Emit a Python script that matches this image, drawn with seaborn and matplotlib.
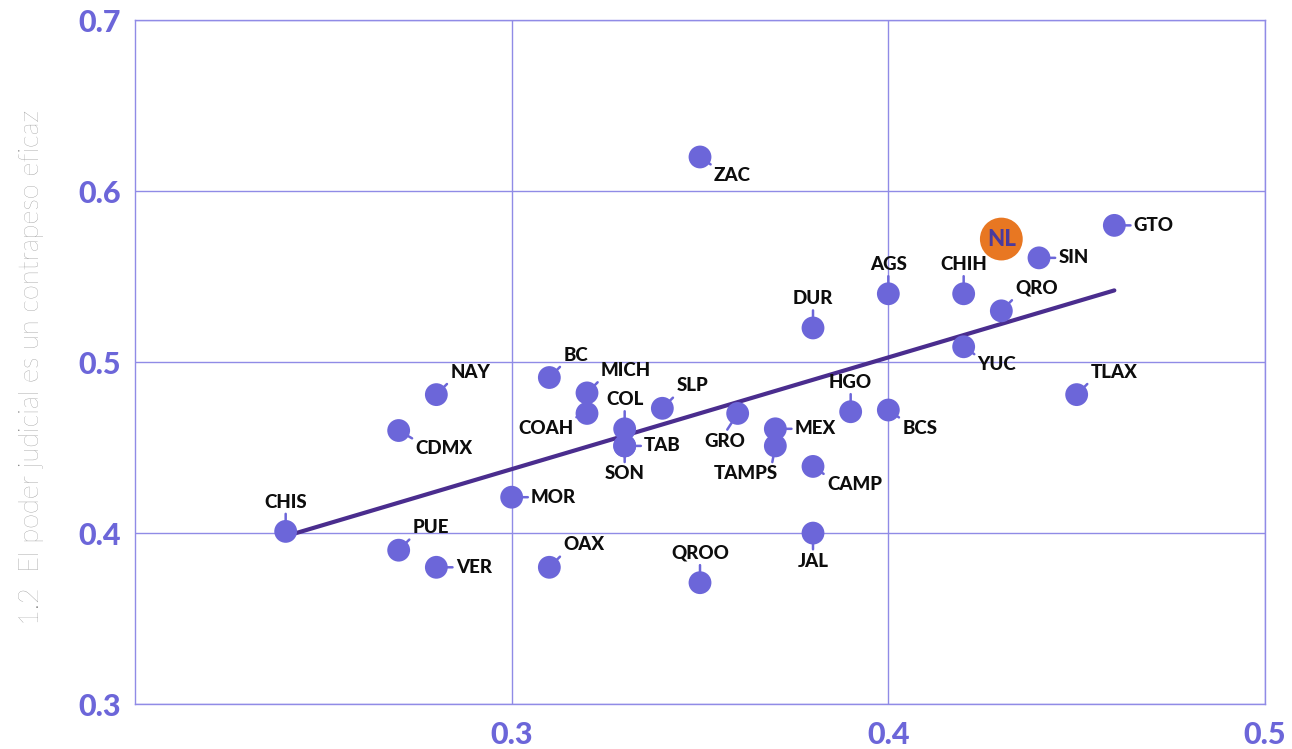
import pandas as pd
import matplotlib.pyplot as plt
import seaborn as sns

# datos
estados = ['CHIS', 'PUE', 'VER', 'NAY', 'CDMX', 'MOR', 'OAX', 'BC', 'MICH', 'COAH',
           'COL', 'TAB', 'SON', 'SLP', 'ZAC', 'QROO', 'GRO', 'MEX', 'TAMPS', 'DUR',
           'CAMP', 'JAL', 'HGO', 'AGS', 'BCS', 'CHIH', 'YUC', 'QRO', 'SIN', 'TLAX',
           'GTO', 'NL']
x_vals = [0.24, 0.27, 0.28, 0.28, 0.27, 0.30, 0.31, 0.31, 0.32, 0.32,
          0.33, 0.33, 0.33, 0.34, 0.35, 0.35, 0.36, 0.37, 0.37, 0.38,
          0.38, 0.38, 0.39, 0.40, 0.40, 0.42, 0.42, 0.43, 0.44, 0.45,
          0.46, 0.43]
y_vals = [0.401, 0.390, 0.380, 0.481, 0.460, 0.421, 0.380, 0.491, 0.482, 0.470,
          0.461, 0.451, 0.451, 0.473, 0.620, 0.371, 0.470, 0.461, 0.451, 0.520,
          0.439, 0.400, 0.471, 0.540, 0.472, 0.540, 0.509, 0.530, 0.561, 0.481,
          0.580, 0.572]
x_ticks = [0.3, 0.4, 0.5]
y_ticks = [0.3, 0.4, 0.5, 0.6, 0.7]
y_titulo = '1.2  El poder judicial es un contrapeso eficaz'
destacado = 'NL'

df = pd.DataFrame({'estado': estados, 'x': x_vals, 'y': y_vals})

# posicion de etiquetas (puntos): dx, dy, ha, va
pos = {
    'CHIS': (0, 15, 'center', 'bottom'), 'PUE': (10, 10, 'left', 'bottom'),
    'VER': (14, 0, 'left', 'center'), 'NAY': (10, 10, 'left', 'bottom'),
    'CDMX': (12, -7, 'left', 'top'), 'MOR': (14, 0, 'left', 'center'),
    'OAX': (10, 10, 'left', 'bottom'), 'BC': (10, 10, 'left', 'bottom'),
    'MICH': (10, 10, 'left', 'bottom'), 'COAH': (-10, -5, 'right', 'top'),
    'COL': (0, 15, 'center', 'bottom'), 'TAB': (14, 0, 'left', 'center'),
    'SON': (0, -14, 'center', 'top'), 'SLP': (10, 10, 'left', 'bottom'),
    'ZAC': (10, -7, 'left', 'top'), 'QROO': (0, 15, 'center', 'bottom'),
    'GRO': (-9, -14, 'center', 'top'), 'MEX': (14, 0, 'left', 'center'),
    'TAMPS': (2, -14, 'right', 'top'), 'DUR': (0, 15, 'center', 'bottom'),
    'CAMP': (10, -7, 'left', 'top'), 'JAL': (0, -14, 'center', 'top'),
    'HGO': (0, 15, 'center', 'bottom'), 'AGS': (0, 15, 'center', 'bottom'),
    'BCS': (10, -7, 'left', 'top'), 'CHIH': (0, 15, 'center', 'bottom'),
    'YUC': (10, -7, 'left', 'top'), 'QRO': (10, 10, 'left', 'bottom'),
    'SIN': (14, 0, 'left', 'center'), 'TLAX': (10, 10, 'left', 'bottom'),
    'GTO': (14, 0, 'left', 'center'),
}

morado = '#6c66d9'
rejilla = '#908be6'
linea = '#4a2d8e'

sns.set_style('white')
plt.rcParams['font.family'] = ['Lato', 'DejaVu Sans']

fig = plt.figure(figsize=(12.92, 7.49), dpi=100)
ax = fig.add_axes([0.1045, 0.06, 0.8746, 0.913])

otros = df[df['estado'] != destacado]
nl = df[df['estado'] == destacado]

sns.regplot(data=df, x='x', y='y', scatter=False, ci=None, truncate=True,
            line_kws={'color': linea, 'lw': 3, 'zorder': 3}, ax=ax)
sns.scatterplot(data=otros, x='x', y='y', s=270, color=morado, edgecolor='none',
                zorder=5, ax=ax)
sns.scatterplot(data=nl, x='x', y='y', s=950, color='#e87722', edgecolor='none',
                zorder=5, ax=ax)
for _, r in nl.iterrows():
    ax.text(r['x'], r['y'], r['estado'], ha='center', va='center', fontsize=16,
            fontweight='black', color='#4b3a9c', zorder=6)

for _, r in otros.iterrows():
    dx, dy, ha, va = pos[r['estado']]
    rx = {'left': 0, 'center': 0.5, 'right': 0.9}[ha]
    ry = {'bottom': 0, 'center': 0.5, 'top': 1}[va]
    ax.annotate(r['estado'], (r['x'], r['y']), xytext=(dx, dy),
                textcoords='offset points', ha=ha, va=va, fontsize=13.5,
                fontweight='black', color='#0d0d0d', zorder=4,
                arrowprops=dict(arrowstyle='-', color=morado, lw=1.8,
                                shrinkA=0, shrinkB=6, relpos=(rx, ry)))

ax.set_xlim(0.2, 0.5)
ax.set_ylim(0.3, 0.7)
ax.set_xticks(x_ticks)
ax.set_yticks(y_ticks)
ax.set_xticklabels([f'{v:.1f}' for v in x_ticks])
ax.set_yticklabels([f'{v:.1f}' for v in y_ticks])
ax.tick_params(axis='both', length=0, labelsize=22, labelcolor=morado)
ax.tick_params(axis='x', pad=12)
ax.tick_params(axis='y', pad=10)
for lab in ax.get_xticklabels() + ax.get_yticklabels():
    lab.set_fontweight('black')
ax.grid(True, color=rejilla, lw=1)
for s in ax.spines.values():
    s.set_color(rejilla)
    s.set_linewidth(1)
ax.set_xlabel('')
ax.set_ylabel('')
fig.text(0.024, 0.509, y_titulo, rotation=90, ha='center', va='center',
         fontsize=19.5, fontweight='light', color='#7d7d7d')

plt.savefig('out.png', dpi=100)
